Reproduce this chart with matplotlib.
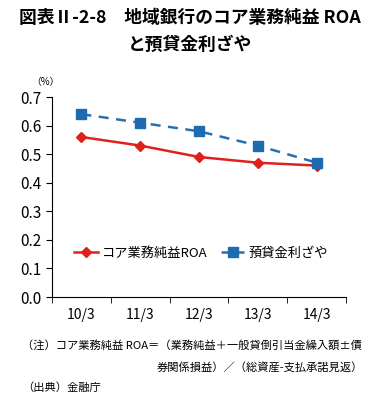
import matplotlib
matplotlib.use("Agg")
import matplotlib.pyplot as plt
import numpy as np

plt.rcParams['font.family'] = ['Noto Sans CJK JP', 'DejaVu Sans']

categories = ["10/3", "11/3", "12/3", "13/3", "14/3"]
roa = [0.56, 0.53, 0.49, 0.47, 0.46]
spread = [0.64, 0.61, 0.58, 0.53, 0.47]
yticks = [0.0, 0.1, 0.2, 0.3, 0.4, 0.5, 0.6, 0.7]

W, H = 370, 411
fig = plt.figure(figsize=(W/100, H/100), dpi=100)
ax = fig.add_axes([52/W, 1-297/H, (346-52)/W, (297-97)/H])

x = np.arange(len(categories))
ax.plot(x, roa, color='#E0201B', lw=1.8, marker='D', ms=5, label='コア業務純益ROA')
ax.plot(x, spread, color='#2A6EB0', lw=1.8, ls=(0, (4, 3)), marker='s', ms=6.5,
        markerfacecolor='#1F6BB0', markeredgecolor='#1F6BB0', label='預貸金利ざや')

ax.set_xlim(-0.5, len(categories)-0.5)
ax.set_ylim(0, 0.7)
ax.set_yticks(yticks)
ax.set_yticklabels([f"{v:.1f}" for v in yticks], fontsize=11)
ax.set_xticks(x)
ax.set_xticklabels(categories, fontsize=10)
ax.set_xticks(np.arange(len(categories)+1)-0.5, minor=True)
ax.tick_params(axis='x', which='major', length=0, pad=8)
ax.tick_params(axis='x', which='minor', length=4, direction='out')
ax.tick_params(axis='y', length=4, direction='out')
for s in ['top', 'right']:
    ax.spines[s].set_visible(False)

ax.legend(loc='center', bbox_to_anchor=((201-52)/294, (297-253)/200), frameon=False,
          ncol=2, fontsize=9.5, handlelength=1.8, columnspacing=1.0, handletextpad=0.3,
          borderpad=0, borderaxespad=0)

fig.text(45/W, 1-82/H, "（%）", fontsize=7, ha='center', va='center')
fig.text(190/W, 1-18/H, "図表Ⅱ-2-8　地域銀行のコア業務純益 ROA", fontsize=12.8, fontweight='bold', ha='center', va='center')
fig.text(190/W, 1-45/H, "と預貸金利ざや", fontsize=12.8, fontweight='bold', ha='center', va='center')
fig.text(22/W, 1-345/H, "（注）コア業務純益 ROA＝（業務純益＋一般貸倒引当金繰入額±債", fontsize=8.1, ha='left', va='center')
fig.text(363/W, 1-367/H, "券関係損益）／（総資産-支払承諾見返）", fontsize=8.1, ha='right', va='center')
fig.text(22/W, 1-388/H, "（出典）金融庁", fontsize=8.1, ha='left', va='center')

fig.savefig("out.png", dpi=100)
